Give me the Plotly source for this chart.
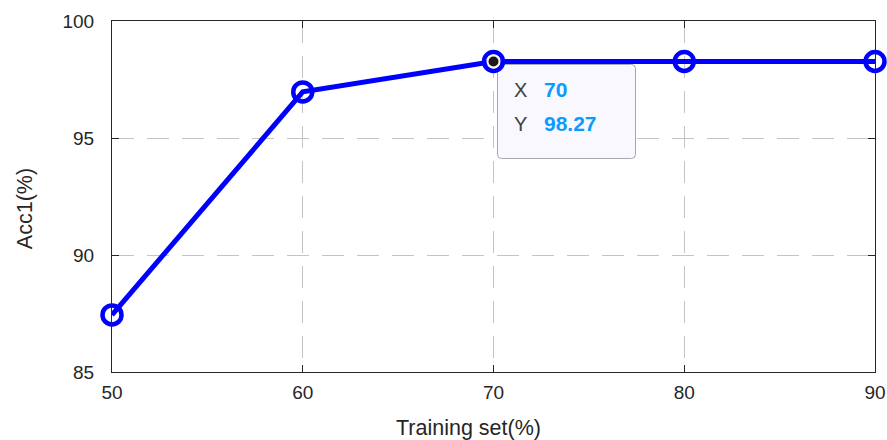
import plotly.graph_objects as go

# Training-set share vs. accuracy
train_pct = [50, 60, 70, 80, 90]
acc1 = [87.44, 96.97, 98.27, 98.27, 98.27]

x_ticks = [50, 60, 70, 80, 90]
y_ticks = [85, 90, 95, 100]

tip_idx = 2  # highlighted point (data tip)

FONT = "Liberation Sans, Arial, Helvetica, sans-serif"
AX_COLOR = "#262626"
GRID_COLOR = "#c4c4c4"
TIP_VALUE_COLOR = "#0a9bff"

fig = go.Figure()

fig.add_trace(go.Scatter(
    x=train_pct, y=acc1,
    mode="lines+markers",
    line=dict(color="#0000ff", width=5),
    marker=dict(symbol="circle-open", size=19, color="#0000ff",
                line=dict(width=4.5, color="#0000ff")),
    cliponaxis=False,
    hoverinfo="skip",
    showlegend=False,
))

# data-tip marker
fig.add_trace(go.Scatter(
    x=[train_pct[tip_idx]], y=[acc1[tip_idx]],
    mode="markers",
    marker=dict(symbol="circle", size=12, color="#1a1a1a",
                line=dict(width=2, color="#fff8e0")),
    cliponaxis=False,
    hoverinfo="skip",
    showlegend=False,
))

# data-tip box (rounded rectangle, pixel-sized, anchored at the point)
box_path = ("M 8,-3 L 138,-3 Q 142,-3 142,-7 L 142,-93 Q 142,-97 138,-97 "
            "L 8,-97 Q 4,-97 4,-93 L 4,-7 Q 4,-3 8,-3 Z")
fig.add_shape(
    type="path", path=box_path,
    xref="x", yref="y",
    xsizemode="pixel", ysizemode="pixel",
    xanchor=train_pct[tip_idx], yanchor=acc1[tip_idx],
    fillcolor="#f8f8fe", line=dict(color="#a8a8a8", width=1),
    layer="between",
)

tip_rows = [("X", f"{train_pct[tip_idx]}", -28.5),
            ("Y", f"{acc1[tip_idx]:.2f}", -62.5)]
for label, value, dy in tip_rows:
    fig.add_annotation(
        x=train_pct[tip_idx], y=acc1[tip_idx], xref="x", yref="y",
        text=label, showarrow=False, xanchor="center", yanchor="middle",
        xshift=27, yshift=dy,
        font=dict(family=FONT, size=20, color="#404040"),
    )
    fig.add_annotation(
        x=train_pct[tip_idx], y=acc1[tip_idx], xref="x", yref="y",
        text=f"<b>{value}</b>", showarrow=False, xanchor="left", yanchor="middle",
        xshift=48, yshift=dy,
        font=dict(family=FONT, size=21, color=TIP_VALUE_COLOR),
    )

# axis titles
fig.add_annotation(
    x=0.4666, y=0, xref="paper", yref="paper",
    text="Training set(%)", showarrow=False,
    xanchor="center", yanchor="middle", yshift=-56,
    font=dict(family=FONT, size=21.5, color=AX_COLOR),
)
fig.add_annotation(
    x=0, y=0.464, xref="paper", yref="paper",
    text="Acc1(%)", showarrow=False, textangle=-90,
    xanchor="center", yanchor="middle", xshift=-87,
    font=dict(family=FONT, size=21.5, color=AX_COLOR),
)

axis_common = dict(
    showline=True, linecolor=AX_COLOR, linewidth=1.2, mirror="ticks",
    ticks="inside", ticklen=7, tickcolor=AX_COLOR, tickwidth=1.2,
    showgrid=True, gridcolor=GRID_COLOR, gridwidth=1, griddash="22px,13px",
    zeroline=False, automargin=False,
    tickfont=dict(family=FONT, size=19, color=AX_COLOR),
)

fig.update_xaxes(range=[50, 90], tickvals=x_ticks, ticklabelstandoff=3, **axis_common)
fig.update_yaxes(range=[85, 100], tickvals=y_ticks, ticklabelstandoff=13, **axis_common)

fig.update_layout(
    width=887, height=440,
    margin=dict(l=112, r=12, t=21, b=68, autoexpand=False),
    paper_bgcolor="white", plot_bgcolor="white",
    font=dict(family=FONT),
    showlegend=False,
)

fig.write_html("out.html")
